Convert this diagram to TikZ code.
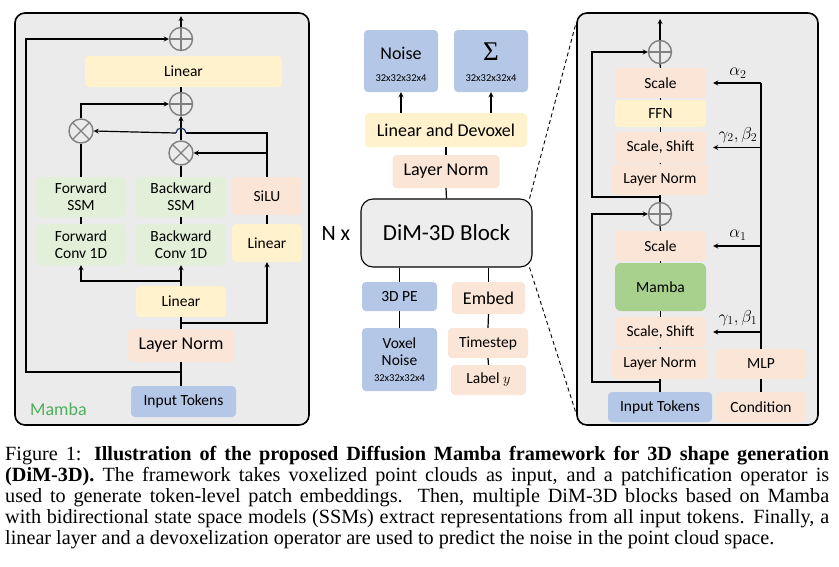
\documentclass[tikz,border=0pt]{standalone}
\usepackage{fontspec}
\setmainfont{Liberation Serif}
\newfontfamily\calib{Carlito}
\usepackage{amsmath}
\usetikzlibrary{shapes,arrows,positioning,calc}

\definecolor{panelgray}{HTML}{EBEBEB}
\definecolor{dimgray}{HTML}{EDEDED}
\definecolor{boxyellow}{HTML}{FFF2CC}
\definecolor{boxpeach}{HTML}{FBE5D6}
\definecolor{boxgreen}{HTML}{E2F0D9}
\definecolor{boxblue}{HTML}{B4C7E7}
\definecolor{mambafill}{HTML}{A9D18E}
\definecolor{mambatext}{HTML}{4EAF5A}
\definecolor{hopblue}{HTML}{1F3864}

\begin{document}
\begin{tikzpicture}[x=1pt, y=-1pt,
    panel/.style={rectangle, draw, line width=1.6pt, rounded corners=10pt, fill=panelgray, inner sep=0pt},
    block/.style={rectangle, rounded corners=4pt, inner sep=0pt, align=center, font=\calib\fontsize{15.5}{17}\selectfont},
    bigblock/.style={block, font=\calib\fontsize{18}{20}\selectfont},
    sz/.style 2 args={minimum width=#1pt, minimum height=#2pt},
    opl/.style={circle, draw=gray, line width=1.4pt, minimum size=23pt, inner sep=0pt,
        path picture={\draw[gray, line width=1.4pt] (path picture bounding box.north) -- (path picture bounding box.south)
        (path picture bounding box.west) -- (path picture bounding box.east);}},
    otm/.style={circle, draw=gray, line width=1.4pt, minimum size=24pt, inner sep=0pt,
        path picture={\draw[gray, line width=1.4pt] (path picture bounding box.north west) -- (path picture bounding box.south east)
        (path picture bounding box.south west) -- (path picture bounding box.north east);}},
    link/.style={line width=1.2pt},
    arrow/.style={->, >=stealth, line width=1.2pt},
    greek/.style={font=\fontsize{18}{20}\selectfont}]

    \useasboundingbox (0,0) rectangle (839,566);
    \fill[white] (0,0) rectangle (839,566);

    % Mamba panel
    \node[panel, sz={294}{412}] (panL) at (162,219) {};
    \node[block, fill=boxyellow, sz={197}{31}] (linT) at (183.5,71.5) {Linear};
    \node[opl] (opT) at (181,39) {};
    \node[opl] (opM) at (181,104) {};
    \node[otm] (otL) at (81,131) {};
    \node[otm] (otR) at (181,153) {};
    \node[block, fill=boxgreen, sz={90}{40}] (ssF) at (81,197) {Forward\\SSM};
    \node[block, fill=boxgreen, sz={90}{40}] (ssB) at (181,197) {Backward\\SSM};
    \node[block, fill=boxpeach, sz={70}{38}] (silu) at (267,196) {SiLU};
    \node[block, fill=boxgreen, sz={90}{41}] (cvF) at (81,244.5) {Forward\\Conv 1D};
    \node[block, fill=boxgreen, sz={90}{41}] (cvB) at (181,244.5) {Backward\\Conv 1D};
    \node[block, fill=boxyellow, sz={70}{38}] (linR) at (267,243) {Linear};
    \node[block, fill=boxyellow, sz={90}{31}] (linM) at (181,301.5) {Linear};
    \node[bigblock, fill=boxpeach, sz={106}{33}] (lnL) at (181,345.5) {Layer Norm};
    \node[block, fill=boxblue, sz={105}{31}] (inL) at (183.5,401.5) {Input Tokens};
    \node[anchor=west, text=mambatext, font=\calib\fontsize{18}{20}\selectfont, inner sep=0pt] (lblM) at (30,409) {Mamba};

    \coordinate (outL) at (181,16);
    \coordinate (skipL) at (26,372);
    \coordinate (brL) at (181,323);
    \coordinate (brC) at (181,281);
    \coordinate (gate) at (267,133);
    \coordinate (hopR) at (186,133);
    \coordinate (hopL) at (176,133);

    \draw[arrow] (opT.north) -- (outL);
    \draw[link] (lnL.south |- inL.north) -- (lnL.south);
    \draw[arrow] (skipL -| lnL.south) -- (skipL) |- (opT.west);
    \draw[link] (opM.north) -- (opM.north |- linT.south);
    \draw[link] (lnL.north) -- (linM.south);
    \draw[arrow] (brL) -| (linR.south);
    \draw[arrow] (linM.north) -- (cvB.south);
    \draw[arrow] (brC) -| (cvF.south);
    \draw[link] (cvF.north) -- (ssF.south);
    \draw[link] (cvB.north) -- (ssB.south);
    \draw[link] (linR.north) -- (silu.south);
    \draw[link] (ssF.north) -- (otL.south);
    \draw[link] (ssB.north) -- (otR.south);
    \draw[arrow] (otR.north) -- (opM.south);
    \draw[arrow] (otL.north) |- (opM.west);
    \draw[arrow] (silu.north) |- (otR.east);
    \draw[link] (silu.north) -- (gate) -- (hopR);
    \draw[hopblue, line width=1.2pt] (hopR) arc[start angle=0, end angle=-180, radius=5];
    \draw[arrow] (hopL) -- (otL.east);

    % DiM-3D column
    \node[bigblock, fill=boxblue, sz={74}{62}] (noise) at (401,61) {\rule{0pt}{20pt}Noise\\[2pt]{\fontsize{10.5}{12}\selectfont 32x32x32x4}};
    \node[bigblock, fill=boxblue, sz={74}{62}] (sigma) at (491,61) {\rule{0pt}{20pt}{\rmfamily\fontsize{27}{27}\selectfont Σ}\\[1pt]{\fontsize{10.5}{12}\selectfont 32x32x32x4}};
    \node[bigblock, fill=boxyellow, sz={162}{34}] (linD) at (446,130) {Linear and Devoxel};
    \node[bigblock, fill=boxpeach, sz={107}{33}] (lnM) at (446,171.5) {Layer Norm};
    \node[block, draw, line width=1.1pt, rounded corners=12pt, fill=dimgray, sz={171}{68},
        font=\calib\fontsize{23}{25}\selectfont] (dim) at (446.5,233) {DiM-3D Block};
    \node[inner sep=0pt, left=10pt of dim, font=\calib\fontsize{22}{24}\selectfont] (nx) {N x};
    \node[block, fill=boxblue, sz={75}{29}] (pe) at (399.5,296.5) {3D PE};
    \node[block, fill=boxblue, sz={75}{63}] (vox) at (399.5,359.5) {Voxel\\Noise\\[-1pt]{\fontsize{10.5}{12}\selectfont 32x32x32x4}};
    \node[bigblock, fill=boxpeach, sz={73}{32}] (emb) at (488.5,298) {Embed};
    \node[block, fill=boxpeach, sz={80}{30}] (ts) at (488,343) {Timestep};
    \node[block, fill=boxpeach, sz={75}{30}] (lab) at (488.5,380) {Label $y$};

    \draw[arrow] (noise.south |- linD.north) -- (noise.south);
    \draw[arrow] (sigma.south |- linD.north) -- (sigma.south);
    \draw[link] (linD.south) -- (lnM.north);
    \draw[link] (lnM.south) -- (dim.north);
    \draw[link] (pe.north) -- (pe.north |- dim.south);
    \draw[link] (pe.south) -- (vox.north);
    \draw[link] (emb.north) -- (emb.north |- dim.south);
    \draw[link] (emb.south) -- (ts.north);
    \draw[link] (ts.south) -- (lab.north);

    % block detail panel
    \node[panel, sz={241}{412}] (panR) at (697.5,219) {};
    \draw[dashed, dash pattern=on 4pt off 3pt, line width=0.9pt] ([xshift=-3pt]dim.north east) -- ([yshift=-10pt]panR.north west);
    \draw[dashed, dash pattern=on 4pt off 3pt, line width=0.9pt] ([xshift=-3pt]dim.south east) -- ([yshift=12pt]panR.south west);

    \node[opl] (opT2) at (660,52) {};
    \node[opl] (opB2) at (660,214) {};
    \node[block, fill=boxpeach, sz={91}{30}] (sc2) at (660.5,83) {Scale};
    \node[block, fill=boxyellow, sz={91}{27}] (ffn) at (660.5,113.5) {FFN};
    \node[block, fill=boxpeach, sz={91}{31}] (ss2) at (660.5,147.5) {Scale, Shift};
    \node[block, fill=boxpeach, sz={96}{31}] (ln2) at (660,179.5) {Layer Norm};
    \node[block, fill=boxpeach, sz={91}{30}] (sc1) at (660.5,246) {Scale};
    \node[block, fill=mambafill, rounded corners=6pt, sz={91}{48}] (mamba) at (660.5,287) {Mamba};
    \node[block, fill=boxpeach, sz={91}{30}] (ss1) at (660.5,332) {Scale, Shift};
    \node[block, fill=boxpeach, sz={96}{30}] (ln1) at (660,364) {Layer Norm};
    \node[block, fill=boxpeach, sz={90}{30}] (mlp) at (761,364) {MLP};
    \node[block, fill=boxblue, sz={104}{30}] (inR) at (660,407) {Input Tokens};
    \node[block, fill=boxpeach, sz={90}{30}] (cond) at (761,407) {Condition};

    \coordinate (outR) at (660,19);
    \coordinate (skR1) at (592,382);
    \coordinate (skR2) at (592,197);

    \draw[arrow] (opT2.north) -- (outR);
    \draw[link] (inR.north) -- (ln1.south);
    \draw[arrow] (skR1 -| ln1.south) -- (skR1) |- (opB2.west);
    \draw[link] (ln1.north) -- (ss1.south);
    \draw[link] (ss1.north) -- (mamba.south);
    \draw[link] (mamba.north) -- (sc1.south);
    \draw[link] (sc1.north) -- (opB2.south);
    \draw[link] (opB2.north) -- (ln2.south);
    \draw[arrow] (skR2 -| opB2.north) -- (skR2) |- (opT2.west);
    \draw[link] (ln2.north) -- (ss2.south);
    \draw[link] (ss2.north) -- (ffn.south);
    \draw[link] (ffn.north) -- (sc2.south);
    \draw[link] (sc2.north) -- (opT2.south);

    \draw[link] (cond.north) -- (mlp.south);
    \draw[link] (mlp.north) -- (mlp.north |- sc2.east);
    \draw[arrow] (mlp.north |- sc2.east) -- ([xshift=7pt]sc2.east);
    \draw[arrow] (mlp.north |- ss2.east) -- ([xshift=7pt]ss2.east);
    \draw[arrow] (mlp.north |- sc1.east) -- ([xshift=7pt]sc1.east);
    \draw[arrow] (mlp.north |- ss1.east) -- ([xshift=7pt]ss1.east);
    \node[greek] (a2) at (738,73) {$\alpha_2$};
    \node[greek] (gb2) at (738,135) {$\gamma_2,\beta_2$};
    \node[greek] (a1) at (738,235) {$\alpha_1$};
    \node[greek] (gb1) at (738,318) {$\gamma_1,\beta_1$};

    % caption
    \node[anchor=north west, text width=824pt, align=justify, inner sep=0pt,
        font=\fontsize{20.2}{21}\selectfont] (cap) at (5,446)
        {Figure 1: \textbf{Illustration of the proposed Diffusion Mamba framework for 3D shape generation\linebreak
        (DiM-3D).} The framework takes voxelized point clouds as input, and a patchification operator is\linebreak
        used to generate token-level patch embeddings. Then, multiple DiM-3D blocks based on Mamba\linebreak
        with bidirectional state space models (SSMs) extract representations from all input tokens. Finally, a\linebreak
        linear layer and a devoxelization operator are used to predict the noise in the point cloud space.};
\end{tikzpicture}
\end{document}
